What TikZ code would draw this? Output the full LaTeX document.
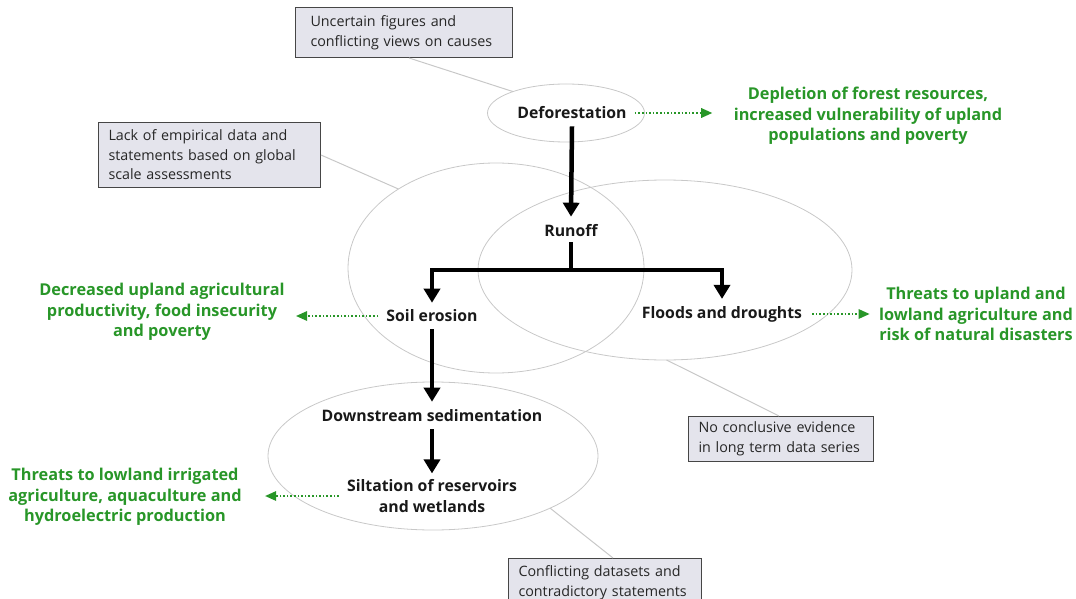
\documentclass[tikz,border=0pt]{standalone}
\usepackage{fontspec}
\setmainfont{Open Sans}
\usetikzlibrary{arrows.meta,shapes.geometric}
\definecolor{grn}{RGB}{40,150,40}
\definecolor{boxfill}{RGB}{228,228,236}
\definecolor{boxline}{RGB}{70,70,70}
\definecolor{ellline}{RGB}{200,200,200}
\tikzset{
  note/.style={draw=boxline, line width=1pt, fill=boxfill, align=left, font=\fontsize{14.3}{19.5}\selectfont, inner xsep=10pt, inner ysep=3pt, anchor=north west, text=black!85},
  key/.style={font=\bfseries\fontsize{15.8}{20.5}\selectfont, align=center, inner sep=2pt, text=black!90},
  effect/.style={font=\bfseries\fontsize{16.3}{20.5}\selectfont, align=center, text=grn},
  oval/.style={ellipse, draw=ellline, line width=0.8pt, inner sep=0pt, outer sep=0pt},
  link/.style={draw=ellline, line width=1pt},
  bigarrow/.style={line width=4.5pt, line join=miter, -{Triangle[width=16pt,length=14pt]}},
  dotarrow/.style={grn, line width=1.6pt, dotted, -{Triangle[width=10pt,length=11pt,line width=0pt]}, shorten >=0pt}
}
\begin{document}
\begin{tikzpicture}[x=1pt,y=-1pt]
\useasboundingbox (0,0) rectangle (1076,599);
% ellipses
\node[oval, minimum width=296pt, minimum height=210pt] (eleft) at (496,268) {};
\node[oval, minimum width=374pt, minimum height=180pt] (eright) at (665,270) {};
\node[oval, minimum width=330pt, minimum height=148pt] (ebot) at (433,456) {};
\node[oval, minimum width=157pt, minimum height=58pt, fill=white] (edef) at (566,113) {};
% notes
\node[note, inner xsep=15pt, text width=187pt, minimum height=50pt] (n1) at (295,7) {Uncertain figures and\\conflicting views on causes};
\node[note, text width=202pt, minimum height=65pt] (n2) at (98,122) {Lack of empirical data and\\statements based on global\\scale assessments};
\node[note, text width=165pt, minimum height=45pt] (n3) at (688,416) {No conclusive evidence\\in long term data series};
\node[note, text width=173pt, minimum height=48pt] (n4) at (508,558) {Conflicting datasets and\\contradictory statements};
% links
\draw[link] ([xshift=5pt]n1.south) -- (edef.158);
\draw[link] (n2.east) -- (eleft.141);
\draw[link] ([xshift=-2pt]n3.north) -- (eright.271);
\draw[link] ([xshift=8pt]n4.north) -- (ebot.336);
% key nodes
\node[key] (def) at (572,113) {Deforestation};
\node[key] (run) at (571,231) {Runoff};
\node[key] (soil) at (432,316) {Soil erosion};
\node[key] (flood) at (722,314) {Floods and droughts};
\node[key] (down) at (432,416) {Downstream sedimentation};
\node[key] (silt) at (432,496) {Siltation of reservoirs\\and wetlands};
% effects
\node[effect] (eff1) at (868,116) {Depletion of forest resources,\\increased vulnerability of upland\\populations and poverty};
\node[effect] (eff2) at (162,312) {Decreased upland agricultural\\productivity, food insecurity\\and poverty};
\node[effect] (eff3) at (976,314) {Threats to upland and\\lowland agriculture and\\risk of natural disasters};
\node[effect] (eff4) at (125,497) {Threats to lowland irrigated\\agriculture, aquaculture and\\hydroelectric production};
% black arrows
\coordinate (split) at (571,270);
\draw[bigarrow] ([yshift=-5pt]def.south) -- ([yshift=6pt]run.north);
\draw[bigarrow] ([yshift=-3pt]run.south) -- (split) -| ([yshift=5pt]soil.north);
\draw[bigarrow] (split) -| ([yshift=5pt]flood.north);
\draw[bigarrow] ([yshift=-5pt]soil.south) -- ([yshift=6pt]down.north);
\draw[bigarrow] ([yshift=-5pt]down.south) -- ([yshift=4pt]silt.north);
% dotted green arrows
\draw[dotarrow] ([xshift=6pt]def.east) -- ([xshift=-18pt]eff1.west |- def.east);
\draw[dotarrow] ([xshift=-6pt]soil.west) -- ([xshift=8pt]eff2.east |- soil.west);
\draw[dotarrow] ([xshift=8pt]flood.east) -- ([xshift=-6pt]eff3.west |- flood.east);
\draw[dotarrow] ([xshift=-6pt]silt.west) -- ([xshift=20pt]eff4.east |- silt.west);
\end{tikzpicture}
\end{document}
